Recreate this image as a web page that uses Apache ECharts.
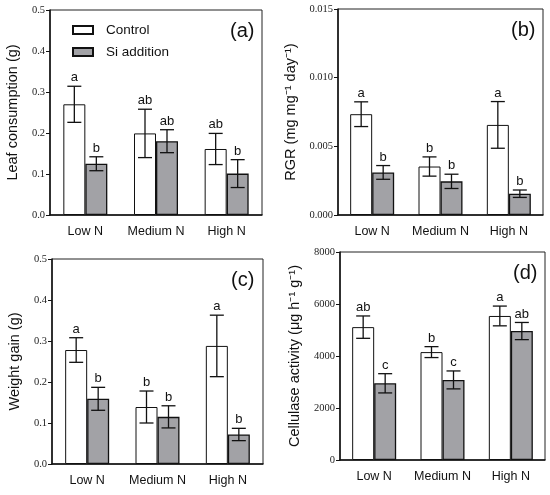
<!DOCTYPE html>
<html>
<head>
<meta charset="utf-8">
<script src="https://cdn.jsdelivr.net/npm/echarts@6/dist/echarts.min.js"></script>
<style>
	html, body { margin: 0; padding: 0; background: #fff; }
	#chart { width: 550px; height: 495px; }
</style>
</head>
<body>
<div id="chart"></div>
<script>
	var categories = ['Low N', 'Medium N', 'High N'];
	var seriesNames = ['Control', 'Si addition'];

	// (a) leaf consumption
	var leafControl = [0.270, 0.199, 0.161];
	var leafControlErr = [0.044, 0.059, 0.038];
	var leafSi = [0.125, 0.180, 0.101];
	var leafSiErr = [0.017, 0.028, 0.034];
	var leafControlLetters = ['a', 'ab', 'ab'];
	var leafSiLetters = ['b', 'ab', 'b'];

	// (b) RGR
	var rgrControl = [0.00734, 0.00353, 0.00656];
	var rgrControlErr = [0.0009, 0.0007, 0.0017];
	var rgrSi = [0.00310, 0.00245, 0.00155];
	var rgrSiErr = [0.0005, 0.00052, 0.00027];
	var rgrControlLetters = ['a', 'b', 'a'];
	var rgrSiLetters = ['b', 'b', 'b'];

	// (c) weight gain
	var weightControl = [0.278, 0.139, 0.288];
	var weightControlErr = [0.030, 0.039, 0.075];
	var weightSi = [0.159, 0.115, 0.072];
	var weightSiErr = [0.028, 0.027, 0.015];
	var weightControlLetters = ['a', 'b', 'a'];
	var weightSiLetters = ['b', 'b', 'b'];

	// (d) cellulase activity
	var cellControl = [5110, 4150, 5540];
	var cellControlErr = [430, 210, 380];
	var cellSi = [2950, 3080, 4960];
	var cellSiErr = [370, 345, 330];
	var cellControlLetters = ['ab', 'b', 'a'];
	var cellSiLetters = ['c', 'c', 'ab'];

	var panels = [
		{ tag: '(a)', name: 'Leaf consumption (g)', max: 0.5, interval: 0.1, digits: 1, gap: 30,
			grid: { left: 50, top: 10, width: 212, height: 205 },
			control: leafControl, controlErr: leafControlErr, si: leafSi, siErr: leafSiErr,
			controlLetters: leafControlLetters, siLetters: leafSiLetters },
		{ tag: '(b)', name: 'RGR (mg mg\u207B\u00B9 day\u207B\u00B9)', max: 0.015, interval: 0.005, digits: 3, gap: 40,
			grid: { left: 338, top: 9, width: 205, height: 206 },
			control: rgrControl, controlErr: rgrControlErr, si: rgrSi, siErr: rgrSiErr,
			controlLetters: rgrControlLetters, siLetters: rgrSiLetters },
		{ tag: '(c)', name: 'Weight gain (g)', max: 0.5, interval: 0.1, digits: 1, gap: 30,
			grid: { left: 52, top: 259, width: 211, height: 205 },
			control: weightControl, controlErr: weightControlErr, si: weightSi, siErr: weightSiErr,
			controlLetters: weightControlLetters, siLetters: weightSiLetters },
		{ tag: '(d)', name: 'Cellulase activity (\u03BCg h\u207B\u00B9 g\u207B\u00B9)', max: 8000, interval: 2000, digits: 0, gap: 38,
			grid: { left: 340, top: 252, width: 205, height: 208 },
			control: cellControl, controlErr: cellControlErr, si: cellSi, siErr: cellSiErr,
			controlLetters: cellControlLetters, siLetters: cellSiLetters }
	];

	var barW = 22;
	var serif = '"Liberation Serif", "Times New Roman", serif';
	var sans = '"Liberation Sans", Arial, sans-serif';

	var option = {
		animation: false,
		backgroundColor: '#fff',
		title: [],
		grid: [],
		xAxis: [],
		yAxis: [],
		series: [],
		legend: {
			data: seriesNames,
			orient: 'vertical',
			left: 67,
			top: 18,
			icon: 'rect',
			itemWidth: 20,
			itemHeight: 8,
			itemGap: 8,
			textStyle: { fontFamily: sans, fontSize: 13.5, color: '#111', padding: [0, 0, 0, 8] }
		}
	};

	//误差线 + 显著性字母
	function errorSeries(idx, means, errs, letters, side){
		return {
			type: 'custom',
			xAxisIndex: idx,
			yAxisIndex: idx,
			z: 10,
			silent: true,
			data: categories.map(function(c, i){ return [i, means[i], errs[i]]; }),
			renderItem: function(params, api){
				var i = api.value(0), m = api.value(1), e = api.value(2);
				var top = api.coord([i, m + e]);
				var bot = api.coord([i, m - e]);
				var x = top[0] + side * barW / 2;
				var cap = 7;
				var st = { stroke: '#111', lineWidth: 1.3 };
				return {
					type: 'group',
					children: [
						{ type: 'line', shape: { x1: x, y1: top[1], x2: x, y2: bot[1] }, style: st },
						{ type: 'line', shape: { x1: x - cap, y1: top[1], x2: x + cap, y2: top[1] }, style: st },
						{ type: 'line', shape: { x1: x - cap, y1: bot[1], x2: x + cap, y2: bot[1] }, style: st },
						{ type: 'text', x: x, y: top[1] - 2, style: {
							text: letters[params.dataIndex], fill: '#111', fontSize: 13, fontFamily: sans,
							align: 'center', verticalAlign: 'bottom' } }
					]
				};
			}
		};
	}

	panels.forEach(function(p, idx){
		option.grid.push($ext(p.grid, { show: true, borderColor: '#222', borderWidth: 1, backgroundColor: 'transparent' }));
		option.title.push({
			text: p.tag,
			left: p.grid.left + p.grid.width - 32,
			top: p.grid.top + 11,
			padding: 0,
			textStyle: { fontFamily: sans, fontSize: 20, fontWeight: 'normal', color: '#111' }
		});
		option.xAxis.push({
			type: 'category',
			gridIndex: idx,
			data: categories,
			axisLine: { lineStyle: { color: '#111', width: 1.5 } },
			axisTick: { alignWithLabel: true, length: 6, lineStyle: { color: '#111', width: 1.3 } },
			axisLabel: { interval: 0, fontFamily: sans, fontSize: 12.5, color: '#111', margin: 10 }
		});
		option.yAxis.push({
			type: 'value',
			gridIndex: idx,
			min: 0,
			max: p.max,
			interval: p.interval,
			name: p.name,
			nameLocation: 'middle',
			nameRotate: 90,
			nameGap: p.gap,
			nameTextStyle: { fontFamily: sans, fontSize: 14.5, color: '#111' },
			splitLine: { show: false },
			axisLine: { show: true, lineStyle: { color: '#111', width: 1.5 } },
			axisTick: { show: true, length: 4, lineStyle: { color: '#111' } },
			axisLabel: {
				fontFamily: serif, fontSize: 10.5, color: '#222', margin: 5,
				formatter: function(v){ return v.toFixed(p.digits); }
			}
		});
		option.series.push({
			name: seriesNames[0], type: 'bar', xAxisIndex: idx, yAxisIndex: idx,
			data: p.control, barWidth: barW, barGap: '0%',
			itemStyle: { color: '#fff', borderColor: '#111', borderWidth: 1 }
		});
		option.series.push({
			name: seriesNames[1], type: 'bar', xAxisIndex: idx, yAxisIndex: idx,
			data: p.si, barWidth: barW, barGap: '0%',
			itemStyle: { color: '#a2a2a6', borderColor: '#111', borderWidth: 1.3 }
		});
		option.series.push(errorSeries(idx, p.control, p.controlErr, p.controlLetters, -1));
		option.series.push(errorSeries(idx, p.si, p.siErr, p.siLetters, 1));
	});

	function $ext(a, b){
		var o = {};
		for(var k in a){ o[k] = a[k]; }
		for(var k2 in b){ o[k2] = b[k2]; }
		return o;
	}

	var chart = echarts.init(document.getElementById('chart'));
	chart.setOption(option);
</script>
</body>
</html>
